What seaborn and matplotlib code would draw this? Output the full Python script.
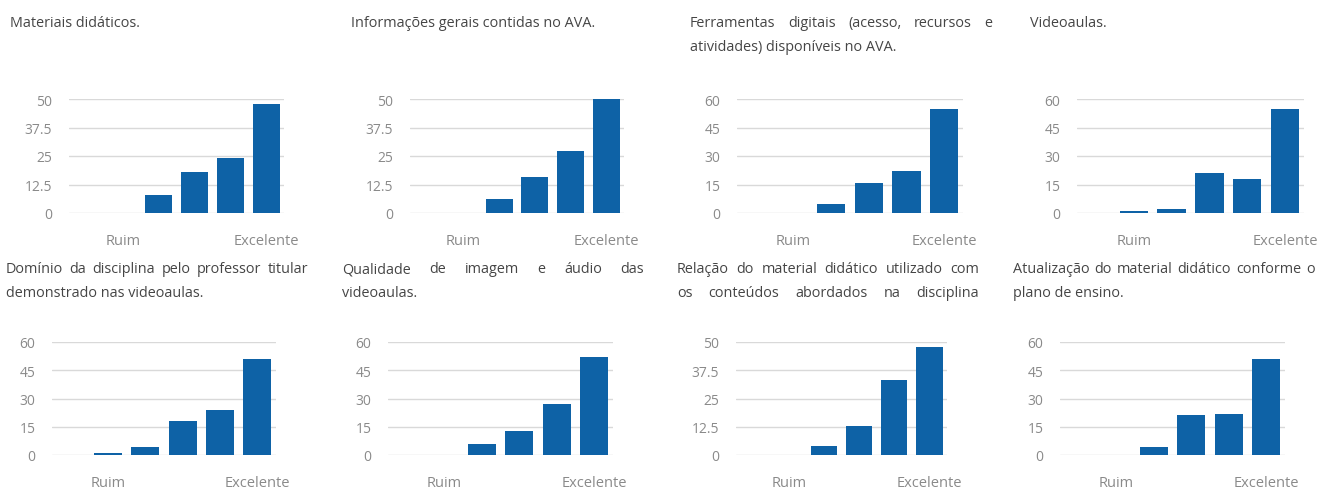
import matplotlib
matplotlib.use("Agg")
import matplotlib.pyplot as plt
import seaborn as sns
import pandas as pd
from matplotlib.ticker import FixedLocator, FuncFormatter

sns.set_theme(style="white")
plt.rcParams['font.family'] = ['Open Sans', 'DejaVu Sans']

# Rating levels (0 = no answer, 1 = Ruim ... 5 = Excelente)
levels = [0, 1, 2, 3, 4, 5]
level_names = {1: "Ruim", 5: "Excelente"}

# Answer counts per rating level
materiais = [0, 0, 8, 18, 24, 48]
informacoes = [0, 0, 6, 16, 27, 50]
ferramentas = [0, 0, 5, 16, 22, 55]
videoaulas = [0, 1, 2, 21, 18, 55]
dominio = [0, 1, 4, 18, 24, 51]
qualidade = [0, 0, 6, 13, 27, 52]
relacao = [0, 0, 4, 13, 33, 48]
atualizacao = [0, 0, 4, 21, 22, 51]

# Axis maximum of each panel
y_max = [50, 50, 60, 60, 60, 60, 50, 60]

titles = [
    ["Materiais didáticos."],
    ["Informações gerais contidas no AVA."],
    ["Ferramentas digitais (acesso, recursos e", "atividades) disponíveis no AVA."],
    ["Videoaulas."],
    ["Domínio da disciplina pelo professor titular", "demonstrado nas videoaulas."],
    ["Qualidade de imagem e áudio das", "videoaulas."],
    ["Relação do material didático utilizado com", "os conteúdos abordados na disciplina"],
    ["Atualização do material didático conforme o", "plano de ensino."],
]
series = [materiais, informacoes, ferramentas, videoaulas,
          dominio, qualidade, relacao, atualizacao]

# ---- layout (pixels) ----
W, H = 1319, 489
# (left, right, top, bottom) of each plotting area
boxes = [
    (69, 284, 100, 214), (410, 624, 100, 214), (737, 963, 100, 214), (1077, 1304, 100, 214),
    (52, 276, 343, 456), (388, 613, 343, 456), (736, 947, 343, 456), (1060, 1285, 343, 456),
]
# title: left x, baselines, justified flags
title_x = [10, 351, 690, 1030, 6, 342, 677, 1013]
title_width = 302
title_base_top = [27, 51]
title_base_bottom = [273, 297]
justify = [
    [False], [False], [True, False], [False],
    [True, False], [True, False], [True, True], [True, False],
]

BAR = "#0e62a6"
GRID = "#d9d9d9"
TICK = "#8a8a8a"
TITLE = "#454545"
TITLE_SIZE = 10.4

fig = plt.figure(figsize=(W / 100, H / 100), dpi=100)
fig.patch.set_facecolor("white")

for i, (vals, box, top) in enumerate(zip(series, boxes, y_max)):
    l, r, t, b = box
    ax = fig.add_axes([l / W, 1 - b / H, (r - l) / W, (b - t) / H])
    df = pd.DataFrame({"nivel": levels, "respostas": vals})
    sns.barplot(data=df, x="nivel", y="respostas", order=levels, color=BAR,
                saturation=1, width=0.75, linewidth=0, ax=ax, zorder=3)
    ax.set_xlim(-0.5, len(levels) - 0.5)
    ax.set_ylim(0, top)
    ticks = [top * k / 4 for k in range(5)]
    ax.yaxis.set_major_locator(FixedLocator(ticks))
    ax.yaxis.set_major_formatter(FuncFormatter(lambda v, p: f"{v:g}"))
    ax.set_xticks(list(level_names.keys()))
    ax.set_xticklabels(list(level_names.values()))
    ax.grid(axis="y", color=GRID, linewidth=1, zorder=0)
    ax.set_axisbelow(True)
    for s in ax.spines.values():
        s.set_visible(False)
    ax.tick_params(axis="y", length=0, pad=12, labelsize=10, labelcolor=TICK)
    ax.tick_params(axis="x", length=0, pad=14.5, labelsize=10.5, labelcolor=TICK)
    ax.set_xlabel("")
    ax.set_ylabel("")
    ax.set_facecolor("white")

renderer = fig.canvas.get_renderer()


def draw_title(lines, x0, baselines, flags):
    for line, y, just in zip(lines, baselines, flags):
        yf = 1 - y / H
        if not just:
            fig.text(x0 / W, yf, line, ha="left", va="baseline",
                     fontsize=TITLE_SIZE, color=TITLE)
            continue
        words = line.split()
        parts = [fig.text(0, yf, w, ha="left", va="baseline",
                          fontsize=TITLE_SIZE, color=TITLE) for w in words]
        widths = [p.get_window_extent(renderer).width for p in parts]
        gap = (title_width - sum(widths)) / (len(words) - 1)
        x = x0
        for p, w in zip(parts, widths):
            p.set_x(x / W)
            x += w + gap


for i, lines in enumerate(titles):
    base = title_base_top if i < 4 else title_base_bottom
    draw_title(lines, title_x[i], base, justify[i])

fig.savefig("out.png", dpi=100, facecolor="white")
